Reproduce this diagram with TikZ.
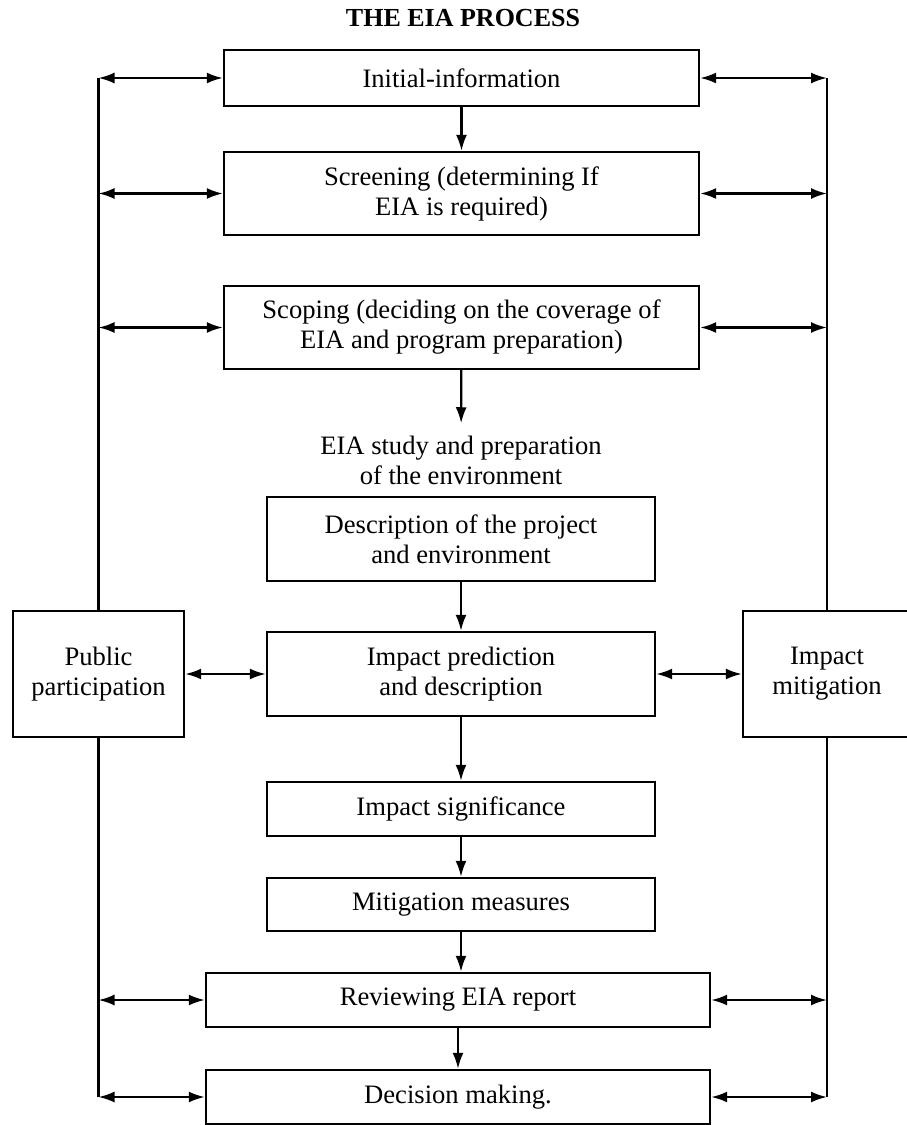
\documentclass[tikz,border=0pt]{standalone}
\usepackage{fontspec}
\setmainfont{Liberation Serif}
\usetikzlibrary{arrows.meta}
\tikzset{
    stage/.style={draw=black, line width=1.2pt, align=center, inner sep=2pt, minimum width=#1, font=\fontsize{13.3}{15}\selectfont},
    label/.style={align=center, inner sep=2pt, font=\fontsize{13.3}{15}\selectfont},
    flow/.style={-{Latex[length=8pt,width=5.5pt]}, line width=1.1pt},
    link/.style={{Latex[length=8pt,width=5.5pt]}-{Latex[length=8pt,width=5.5pt]}, line width=1.1pt},
    bus/.style={line width=1.3pt}
}

\begin{document}
\begin{tikzpicture}[x=0.5pt, y=-0.5pt]
    \useasboundingbox (0,0) rectangle (906,1125);
    \node[label, font=\bfseries\fontsize{13}{15}\selectfont] (title) at (463,18) {THE EIA PROCESS};
    \node[stage=237.5pt, minimum height=28pt] (init) at (461.5,78) {Initial-information};
    \node[stage=237.5pt, minimum height=41.5pt] (screen) at (461.5,193.5) {Screening (determining If\\EIA is required)};
    \node[stage=237.5pt, minimum height=41.5pt] (scope) at (461.5,327.5) {Scoping (deciding on the coverage of\\EIA and program preparation)};
    \node[label] (study) at (461,460) {EIA study and preparation\\of the environment};
    \node[stage=194pt, minimum height=42pt] (descr) at (461,539) {Description of the project\\and environment};
    \node[stage=194pt, minimum height=42pt] (predict) at (461,674) {Impact prediction\\and description};
    \node[stage=194pt, minimum height=27pt] (signif) at (461,809) {Impact significance};
    \node[stage=194pt, minimum height=26.5pt] (measures) at (461,904.5) {Mitigation measures};
    \node[stage=252pt, minimum height=27pt] (review) at (458,1000) {Reviewing EIA report};
    \node[stage=252pt, minimum height=27pt] (decide) at (458,1097) {Decision making.};
    \node[stage=85.5pt, minimum height=63pt] (public) at (98.5,674) {Public\\participation};
    \node[stage=84pt, minimum height=63pt] (mitigate) at (827,674) {Impact\\mitigation};

    \draw[flow] (init) -- (screen);
    \draw[flow, shorten >=4pt] (scope) -- (study);
    \draw[flow] (descr) -- (predict);
    \draw[flow] (predict) -- (signif);
    \draw[flow] (signif) -- (measures);
    \draw[flow] (measures.south) -- (measures.south |- review.north);
    \draw[flow] (review) -- (decide);

    \draw[bus] (public.north) -- (public.north |- init.west);
    \draw[bus] (public.south) -- (public.south |- decide.west);
    \draw[bus] (mitigate.north) -- (mitigate.north |- init.east);
    \draw[bus] (mitigate.south) -- (mitigate.south |- decide.east);

    \draw[link] (public.north |- init.west) -- (init.west);
    \draw[link] (public.north |- screen.west) -- (screen.west);
    \draw[link] (public.north |- scope.west) -- (scope.west);
    \draw[link] (public.south |- review.west) -- (review.west);
    \draw[link] (public.south |- decide.west) -- (decide.west);
    \draw[link] (public) -- (predict);
    \draw[link] (init.east) -- (mitigate.north |- init.east);
    \draw[link] (screen.east) -- (mitigate.north |- screen.east);
    \draw[link] (scope.east) -- (mitigate.north |- scope.east);
    \draw[link] (review.east) -- (mitigate.south |- review.east);
    \draw[link] (decide.east) -- (mitigate.south |- decide.east);
    \draw[link] (predict) -- (mitigate);
\end{tikzpicture}
\end{document}
